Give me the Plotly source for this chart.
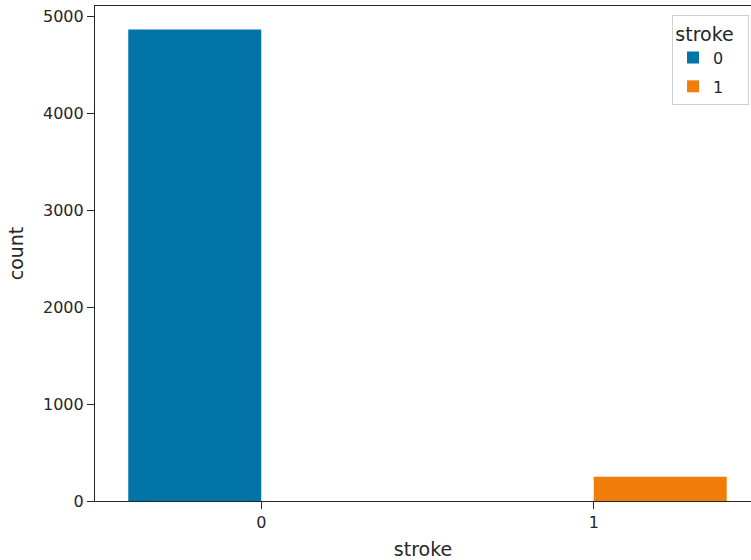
import plotly.graph_objects as go

categories = [0, 1]
hue_levels = ["0", "1"]
counts_hue0 = [4861, 0]
counts_hue1 = [0, 249]
colors = ["#0274a8", "#f07c0a"]
tick_labels = ["0", "1"]

fig = go.Figure()
fig.add_trace(go.Bar(x=categories, y=counts_hue0, name=hue_levels[0],
                     legendgroup="g0",
                     marker=dict(color=colors[0], line=dict(width=0)),
                     width=0.4, offset=-0.4))
fig.add_trace(go.Bar(x=categories, y=counts_hue1, name=hue_levels[1],
                     legendgroup="g1",
                     marker=dict(color=colors[1], line=dict(width=0)),
                     width=0.4, offset=0.0))

font = dict(family="DejaVu Sans", size=16, color="#262626")
fig.update_layout(
    width=751, height=560,
    margin=dict(l=95, r=0, t=6, b=59),
    plot_bgcolor="white", paper_bgcolor="white",
    font=font,
    barmode="overlay",
    showlegend=True,
    legend=dict(title=dict(text="stroke  ", side="top center"),
                x=0.997, y=0.982, xanchor="right", yanchor="top",
                bordercolor="#d0d0d0", borderwidth=1, bgcolor="white",
                tracegroupgap=5,
                font=dict(family="DejaVu Sans", size=16)),
    xaxis=dict(range=[-0.5, 1.473], tickvals=categories, ticktext=tick_labels,
               showline=True, linecolor="#262626", linewidth=1.2, mirror=True,
               ticks="outside", ticklen=7, tickcolor="#262626",
               showgrid=False, zeroline=False,
               title=dict(text="stroke", standoff=12)),
    yaxis=dict(range=[0, 5104], tickvals=[0, 1000, 2000, 3000, 4000, 5000],
               showline=True, linecolor="#262626", linewidth=1.2,
               ticks="outside", ticklen=7, tickcolor="#262626",
               showgrid=False, zeroline=False,
               title=dict(text="count", standoff=14)),
)
fig.write_html("out.html", config={"displayModeBar": False},
               post_script="document.body.style.margin='0';")
